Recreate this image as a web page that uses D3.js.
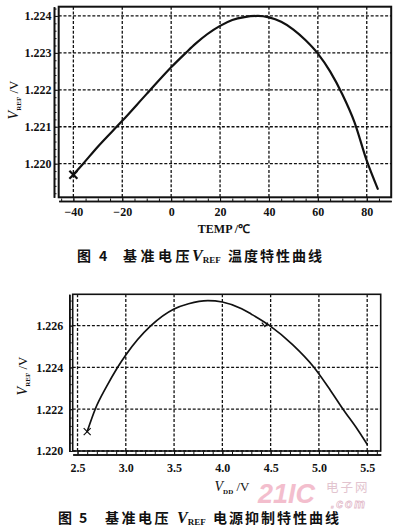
<!DOCTYPE html>
<html>
<head>
<meta charset="utf-8">
<script src="https://cdn.jsdelivr.net/npm/d3@7"></script>
<style>
  body { margin: 0; background: #fff; }
  svg { display: block; }
  .tick text { font-family: "Liberation Serif", "Times New Roman", serif; font-weight: bold; font-size: 12px; fill: #111; }
  .serif { font-family: "Liberation Serif", "Times New Roman", serif; fill: #111; }
  .cap { font-family: "Noto Sans CJK SC", sans-serif; font-weight: 700; font-size: 14px; fill: #111; }
</style>
</head>
<body>
<svg id="fig" width="400" height="527"></svg>
<script>
// Figure 4: VREF vs temperature
const tempC    = [-40, -36, -30, -20, -10, 0, 6, 10, 20, 25, 30, 35.5, 40, 45, 50, 55, 60, 65, 70, 75, 80, 84.5];
const vrefTemp = [1.2197, 1.2200, 1.22046, 1.22116, 1.22189, 1.22261, 1.2230, 1.22325, 1.22373, 1.22389,
                  1.22397, 1.22400, 1.22396, 1.22384, 1.22363, 1.22334, 1.22298, 1.22250, 1.22188,
                  1.22112, 1.22008, 1.21932];
const tempTicks  = [-40, -20, 0, 20, 40, 60, 80];
const tempVTicks = [1.220, 1.221, 1.222, 1.223, 1.224];

// Figure 5: VREF vs supply voltage
const vdd     = [2.6, 2.683, 2.8, 2.914, 3.0, 3.26, 3.5, 3.65, 3.85, 4.0, 4.2, 4.3, 4.49, 4.73, 4.95,
                 5.12, 5.25, 5.4, 5.5];
const vrefVdd = [1.22093, 1.2220, 1.22308, 1.2240, 1.2246, 1.2260, 1.2268, 1.22705, 1.2272, 1.22713,
                 1.22681, 1.22655, 1.2260, 1.22508, 1.2240, 1.2229, 1.2220, 1.22103, 1.22032];
const vddTicks  = [2.5, 3.0, 3.5, 4.0, 4.5, 5.0, 5.5];
const vddVTicks = [1.220, 1.222, 1.224, 1.226];

const svg = d3.select("#fig");

function panel(p) {
  const g = svg.append("g");
  const x = d3.scaleLinear().domain(p.xDomain).range([p.left, p.right]);
  const y = d3.scaleLinear().domain(p.yDomain).range([p.bottom, p.top]);

  // grid
  g.append("g").selectAll("line").data(p.xTicks).join("line")
    .attr("x1", d => x(d)).attr("x2", d => x(d))
    .attr("y1", p.top).attr("y2", p.bottom);
  g.append("g").selectAll("line").data(p.yTicks).join("line")
    .attr("x1", p.left).attr("x2", p.right)
    .attr("y1", d => y(d)).attr("y2", d => y(d));
  g.selectAll("line")
    .attr("stroke", "#111").attr("stroke-width", 1.3).attr("stroke-dasharray", "3,1.8");

  // frame
  g.append("rect")
    .attr("x", p.left).attr("y", p.top)
    .attr("width", p.right - p.left).attr("height", p.bottom - p.top)
    .attr("fill", "none").attr("stroke", "#111").attr("stroke-width", p.frameW);

  // x axis below the frame, with minor ticks
  const [x0, x1] = x.domain();
  const xMinor = d3.range(Math.ceil(x0 / p.xMinor) * p.xMinor, x1, p.xMinor);
  g.append("g").attr("transform", `translate(0,${p.axisY})`)
    .call(d3.axisBottom(x).tickValues(xMinor).tickSize(-2.5).tickSizeOuter(0).tickFormat(""));
  g.append("g").attr("transform", `translate(0,${p.axisY})`)
    .call(d3.axisBottom(x).tickValues(p.xTicks).tickSize(-(p.axisY - p.bottom)).tickSizeOuter(0)
      .tickPadding(p.xPad).tickFormat(p.xFormat));

  // y axis left of the frame, with minor ticks
  const [y0, y1] = y.domain();
  const yMinor = d3.range(Math.ceil(y0 / p.yMinor) * p.yMinor, y1, p.yMinor);
  g.append("g").attr("transform", `translate(${p.axisX},0)`)
    .call(d3.axisLeft(y).tickValues(yMinor).tickSize(-2.5).tickSizeOuter(0).tickFormat(""));
  g.append("g").attr("transform", `translate(${p.axisX},0)`)
    .call(d3.axisLeft(y).tickValues(p.yTicks).tickSize(-(p.left - p.axisX)).tickSizeOuter(0)
      .tickPadding(p.yPad).tickFormat(d3.format(".3f")));

  g.selectAll(".domain").attr("stroke", "#111").attr("stroke-width", 1.6);
  g.selectAll(".tick line").attr("stroke", "#111").attr("stroke-width", 1).attr("stroke-dasharray", null);

  // curve
  const line = d3.line().x(d => x(d[0])).y(d => y(d[1])).curve(d3.curveMonotoneX);
  g.append("path")
    .datum(d3.zip(p.xs, p.ys))
    .attr("d", line)
    .attr("fill", "none").attr("stroke", "#111").attr("stroke-width", p.lineW)
    .attr("stroke-linecap", "round");

  // start marker "x"
  const mx = x(p.xs[0]), my = y(p.ys[0]), r = p.markR;
  g.append("path")
    .attr("d", `M${mx - r},${my - r}L${mx + r},${my + r}M${mx - r},${my + r}L${mx + r},${my - r}`)
    .attr("stroke", "#111").attr("stroke-width", p.markW);

  return { g, x, y };
}

// ---------- Figure 4 ----------
panel({
  xDomain: [-46, 90], yDomain: [1.21909, 1.22425],
  left: 58.7, right: 391.2, top: 6.7, bottom: 197.3,
  axisX: 54, axisY: 201, xPad: 6.5, yPad: 2.5,
  xTicks: tempTicks, yTicks: tempVTicks, xMinor: 5, yMinor: 0.0002,
  xFormat: d3.format("d"),
  xs: tempC, ys: vrefTemp, lineW: 2.2, markR: 4, markW: 2.2, frameW: 2
});

svg.append("text").attr("class", "serif")
  .attr("x", 224).attr("y", 233).attr("text-anchor", "middle")
  .attr("font-size", 12).attr("font-weight", "bold")
  .text("TEMP /\u2103");

function vrefTitle(cx, cy) {
  const t = svg.append("text").attr("class", "serif")
    .attr("transform", `translate(${cx},${cy}) rotate(-90)`)
    .attr("text-anchor", "middle").attr("dy", "0.35em").attr("font-size", 13);
  t.append("tspan").attr("font-style", "italic").attr("font-size", 14).text("V");
  t.append("tspan").attr("font-size", 7).attr("font-weight", "bold").attr("dy", 3).text("REF");
  t.append("tspan").attr("dy", -3).text(" /V");
}
vrefTitle(13, 100);

function caption(yb, parts) {
  parts.forEach(pt => {
    const t = svg.append("text").attr("x", pt.x).attr("y", yb);
    if (pt.v) {
      t.attr("class", "serif").attr("font-size", 16).attr("font-style", "italic").attr("font-weight", "bold");
      t.append("tspan").text("V");
      t.append("tspan").attr("font-size", 9).attr("font-style", "normal").attr("dy", 2).text("REF");
    } else {
      t.attr("class", "cap").attr("letter-spacing", pt.ls || 0).text(pt.s);
    }
  });
}

caption(261, [
  { x: 77, s: "图" },
  { x: 99, s: "4" },
  { x: 123, s: "基准电压", ls: 3.5 },
  { x: 192, v: true },
  { x: 228, s: "温度特性曲线", ls: 2 }
]);

// ---------- Figure 5 ----------
const p5 = panel({
  xDomain: [2.45, 5.64], yDomain: [1.2200, 1.2275],
  left: 72.7, right: 380.7, top: 294.3, bottom: 451,
  axisX: 69.3, axisY: 454.5, xPad: 9, yPad: 6,
  xTicks: vddTicks, yTicks: vddVTicks, xMinor: 0.1, yMinor: 0.0004,
  xFormat: d3.format(".1f"),
  xs: vdd, ys: vrefVdd, lineW: 1.7, markR: 3.5, markW: 1.2, frameW: 1.6
});

// small cursor mark on the curve near 4.44 V
const cx5 = p5.x(4.44), cy5 = p5.y(1.22605);
p5.g.append("path")
  .attr("d", `M${cx5 - 3},${cy5 - 2}L${cx5},${cy5 + 2}L${cx5 + 3},${cy5 - 2}`)
  .attr("fill", "none").attr("stroke", "#111").attr("stroke-width", 1.2);

const xt = svg.append("text").attr("class", "serif")
  .attr("x", 232).attr("y", 491).attr("text-anchor", "middle").attr("font-size", 13);
xt.append("tspan").attr("font-style", "italic").attr("font-size", 14).text("V");
xt.append("tspan").attr("font-size", 7).attr("font-weight", "bold").attr("dy", 3).text("DD");
xt.append("tspan").attr("dy", -3).text(" /V");

vrefTitle(22, 376);

// watermark
svg.append("text").attr("x", 258).attr("y", 503)
  .attr("font-family", "Liberation Sans, sans-serif").attr("font-weight", "bold")
  .attr("font-style", "italic").attr("font-size", 27).attr("fill", "#f0a9bd").attr("opacity", 0.75)
  .text("21IC");
svg.append("text").attr("x", 326).attr("y", 492)
  .attr("font-family", "Noto Sans CJK SC, sans-serif").attr("font-size", 12.5)
  .attr("fill", "#dcb6c4").attr("opacity", 0.8).attr("letter-spacing", 2)
  .text("电子网");
svg.append("text").attr("x", 331).attr("y", 507.5)
  .attr("font-family", "Liberation Sans, sans-serif").attr("font-style", "italic").attr("font-weight", "bold")
  .attr("font-size", 12).attr("fill", "none").attr("stroke", "#e3bccb").attr("stroke-width", 0.8)
  .attr("letter-spacing", 2)
  .text(".com");

caption(523, [
  { x: 58, s: "图" },
  { x: 79, s: "5" },
  { x: 105, s: "基准电压", ls: 2.5 },
  { x: 177, v: true },
  { x: 213, s: "电源抑制特性曲线", ls: 2 }
]);
</script>
</body>
</html>
